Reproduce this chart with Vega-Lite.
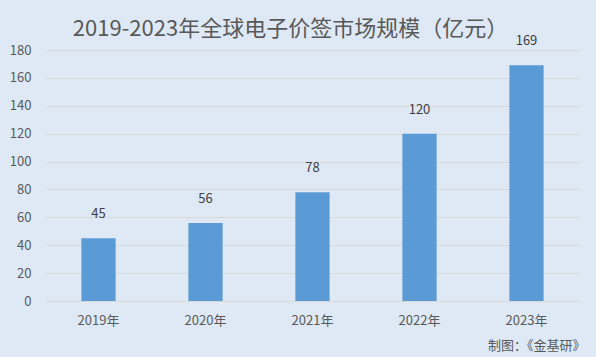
{
  "$schema": "https://vega.github.io/schema/vega-lite/v6.json",
  "autosize": {"type": "none"},
  "width": 535,
  "height": 251,
  "padding": {"left": 45, "top": 50, "right": 16, "bottom": 56},
  "background": "#dee9f5",
  "config": {
    "view": {"stroke": null},
    "font": "Noto Sans CJK SC"
  },
  "title": {
    "text": "2019-2023年全球电子价签市场规模（亿元）",
    "fontSize": 22,
    "fontWeight": "normal",
    "color": "#595959",
    "anchor": "middle",
    "dx": -22,
    "dy": 18,
    "offset": 12,
    "font": "Noto Sans CJK SC"
  },
  "data": {
    "values": [
      {"year": "2019年", "value": 45},
      {"year": "2020年", "value": 56},
      {"year": "2021年", "value": 78},
      {"year": "2022年", "value": 120},
      {"year": "2023年", "value": 169}
    ]
  },
  "encoding": {
    "x": {
      "field": "year",
      "type": "nominal",
      "sort": null,
      "scale": {"paddingInner": 0.68, "paddingOuter": 0.34},
      "axis": {
        "title": "制图：《金基研》",
        "titleAnchor": "end",
        "titleAlign": "right",
        "titleFontSize": 13,
        "titleFontWeight": "normal",
        "titleColor": "#595959",
        "titlePadding": 12,
        "titleX": 540,
        "labelAngle": 0,
        "labelFontSize": 13,
        "labelColor": "#595959",
        "labelPadding": 13,
        "ticks": false,
        "domainColor": "#d9d9d9",
        "grid": false
      }
    },
    "y": {
      "field": "value",
      "type": "quantitative",
      "scale": {"domain": [0, 180]},
      "axis": {
        "title": null,
        "values": [0, 20, 40, 60, 80, 100, 120, 140, 160, 180],
        "labelFontSize": 13,
        "labelColor": "#595959",
        "labelPadding": 14,
        "ticks": false,
        "domain": false,
        "gridColor": "#d9d9d9"
      }
    }
  },
  "layer": [
    {"mark": {"type": "bar", "color": "#5b9bd5"}},
    {
      "mark": {"type": "text", "baseline": "bottom", "dy": -17, "fontSize": 13, "color": "#404040"},
      "encoding": {"text": {"field": "value", "type": "quantitative"}}
    }
  ]
}
